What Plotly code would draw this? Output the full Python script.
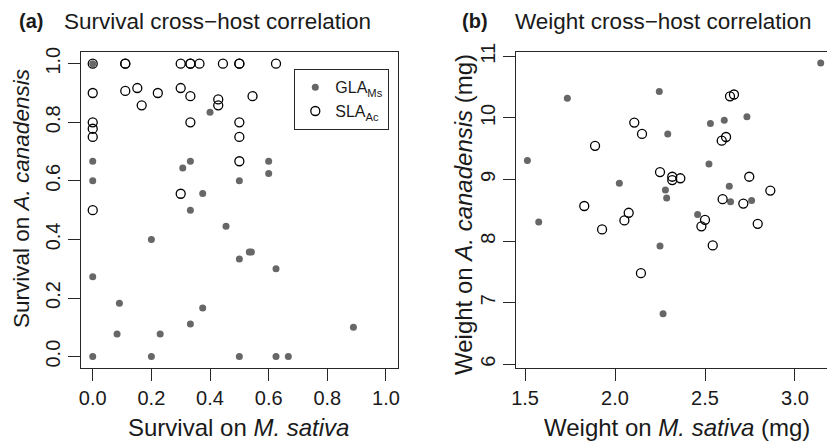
import plotly.graph_objects as go

# ---- Panel (a): survival ----
surv_gla_ms_x = [0.0, 0.40, 0.0, 0.333, 0.307, 0.60, 0.60, 0.0, 0.50, 0.375, 0.333, 0.4545,
                 0.20, 0.534, 0.541, 0.50, 0.625, 0.0, 0.091, 0.375, 0.333, 0.083, 0.23, 0.889,
                 0.0, 0.20, 0.50, 0.625, 0.667]
surv_gla_ac_y = [1.0, 0.834, 0.667, 0.667, 0.644, 0.667, 0.625, 0.60, 0.60, 0.557, 0.50, 0.445,
                 0.40, 0.357, 0.357, 0.333, 0.30, 0.273, 0.182, 0.166, 0.111, 0.077, 0.077, 0.10,
                 0.0, 0.0, 0.0, 0.0, 0.0]
surv_sla_ms_x = [0.0, 0.111, 0.111, 0.30, 0.333, 0.333, 0.364, 0.444, 0.50, 0.50, 0.625,
                 0.0, 0.111, 0.152, 0.167, 0.222, 0.30, 0.333, 0.428, 0.428, 0.545,
                 0.0, 0.0, 0.0, 0.333, 0.50, 0.50, 0.50, 0.30, 0.0]
surv_sla_ac_y = [1.0, 1.0, 1.0, 1.0, 1.0, 1.0, 1.0, 1.0, 1.0, 1.0, 1.0,
                 0.90, 0.907, 0.917, 0.858, 0.90, 0.917, 0.889, 0.878, 0.858, 0.889,
                 0.80, 0.778, 0.75, 0.80, 0.80, 0.75, 0.667, 0.556, 0.50]

# ---- Panel (b): weight (mg) ----
wt_gla_ms_x = [3.143, 1.735, 2.246, 2.293, 2.53, 2.607, 2.733, 1.513, 2.522, 2.024, 2.635, 2.28,
               2.287, 2.642, 2.759, 1.576, 2.459, 2.25, 2.267]
wt_gla_ac_y = [10.89, 10.32, 10.43, 9.74, 9.91, 9.96, 10.02, 9.31, 9.25, 8.94, 8.89, 8.83,
               8.70, 8.64, 8.66, 8.31, 8.43, 7.92, 6.82]
wt_sla_ms_x = [2.639, 2.661, 2.107, 2.15, 1.889, 2.593, 2.617, 2.25, 2.318, 2.318, 2.363, 2.746,
               2.863, 2.598, 2.713, 1.829, 1.928, 2.052, 2.076, 2.5, 2.48, 2.793, 2.543, 2.144]
wt_sla_ac_y = [10.35, 10.38, 9.925, 9.74, 9.546, 9.63, 9.69, 9.12, 9.045, 8.99, 9.02, 9.045,
               8.82, 8.68, 8.61, 8.57, 8.19, 8.335, 8.46, 8.345, 8.24, 8.28, 7.93, 7.48]

x_ticks_a = [0.0, 0.2, 0.4, 0.6, 0.8, 1.0]
x_ticklabels_a = ["0.0", "0.2", "0.4", "0.6", "0.8", "1.0"]
y_ticks_a = [0.0, 0.2, 0.4, 0.6, 0.8, 1.0]
y_ticklabels_a = ["0.0", "0.2", "0.4", "0.6", "0.8", "1.0"]
x_ticks_b = [1.5, 2.0, 2.5, 3.0]
x_ticklabels_b = ["1.5", "2.0", "2.5", "3.0"]
y_ticks_b = [6, 7, 8, 9, 10, 11]
y_ticklabels_b = ["6", "7", "8", "9", "10", "11"]

FONT = "Liberation Sans, Arial, sans-serif"
TXT = "#1a1a1a"
AX = "#262626"
GRAY = "#676767"
W, H = 827, 442

fig = go.Figure()

filled = dict(symbol="circle", size=7, color=GRAY, line=dict(width=0))
opened = dict(symbol="circle-open", size=9, color="black", line=dict(width=1.3))

fig.add_trace(go.Scatter(x=surv_gla_ms_x, y=surv_gla_ac_y, mode="markers", marker=filled,
                         name="GLA<sub>Ms</sub>", xaxis="x", yaxis="y", showlegend=True))
fig.add_trace(go.Scatter(x=surv_sla_ms_x, y=surv_sla_ac_y, mode="markers", marker=opened,
                         name="SLA<sub>Ac</sub>", xaxis="x", yaxis="y", showlegend=True))
fig.add_trace(go.Scatter(x=wt_gla_ms_x, y=wt_gla_ac_y, mode="markers", marker=filled,
                         name="GLA<sub>Ms</sub>", xaxis="x2", yaxis="y2", showlegend=False))
fig.add_trace(go.Scatter(x=wt_sla_ms_x, y=wt_sla_ac_y, mode="markers", marker=opened,
                         name="SLA<sub>Ac</sub>", xaxis="x2", yaxis="y2", showlegend=False))

ydom = [1 - 368.3 / H, 1 - 52 / H]
common = dict(showgrid=False, zeroline=False, showline=True, linecolor=AX, linewidth=1.3,
              ticks="outside", ticklen=12, tickwidth=1.3, tickcolor=AX, automargin=False,
              tickfont=dict(family=FONT, size=20, color=TXT))


def px_ann(text, x, y, size=22, angle=0, xanchor="center", yanchor="middle"):
    return dict(text=text, x=x / W, y=1 - y / H, xref="paper", yref="paper",
                xanchor=xanchor, yanchor=yanchor, showarrow=False, textangle=angle,
                font=dict(family=FONT, size=size, color=TXT))


fig.update_layout(
    width=W, height=H,
    margin=dict(l=0, r=0, t=0, b=0, autoexpand=False),
    paper_bgcolor="white", plot_bgcolor="white",
    font=dict(family=FONT, color=TXT),
    xaxis=dict(domain=[81 / W, 397.7 / W], range=[-0.04, 1.04], tickvals=x_ticks_a,
               ticktext=x_ticklabels_a, mirror=True, anchor="y", **common),
    yaxis=dict(domain=ydom, range=[-0.04, 1.04], tickvals=y_ticks_a, ticktext=y_ticklabels_a,
               tickangle=-90, mirror=True, anchor="x", **common),
    xaxis2=dict(domain=[515.7 / W, 1.0], range=[1.448, 3.178], tickvals=x_ticks_b,
                ticktext=x_ticklabels_b, mirror=True, anchor="y2", **common),
    yaxis2=dict(domain=ydom, range=[5.935, 11.07], tickvals=y_ticks_b, ticktext=y_ticklabels_b,
                tickangle=-90, mirror=False, anchor="x2", **common),
    legend=dict(x=389 / W, y=1 - 69 / H, xanchor="right", yanchor="top",
                bordercolor=AX, borderwidth=1.3, bgcolor="white",
                font=dict(family=FONT, size=16, color=TXT),
                itemwidth=30, tracegroupgap=0),
    annotations=[
        px_ann("<b>(a)</b>", 17, 21, size=20, xanchor="left"),
        px_ann("Survival cross\u2212host correlation", 62, 21, size=22.5, xanchor="left"),
        px_ann("<b>(b)</b>", 460, 21, size=20, xanchor="left"),
        px_ann("Weight cross\u2212host correlation", 513, 21, size=22.5, xanchor="left"),
        px_ann("Survival on <i>M. sativa</i>", 238, 427, size=24),
        px_ann("Weight on <i>M. sativa</i> (mg)", 677, 427, size=24),
        px_ann("Survival on <i>A. canadensis</i>", 22, 199, size=22.5, angle=-90),
        px_ann("Weight on <i>A. canadensis</i> (mg)", 463, 215, size=24, angle=-90),
    ],
)

fig.write_html("out.html", config={"displayModeBar": False},
               post_script="document.body.style.margin='0';document.body.style.overflow='hidden';")
